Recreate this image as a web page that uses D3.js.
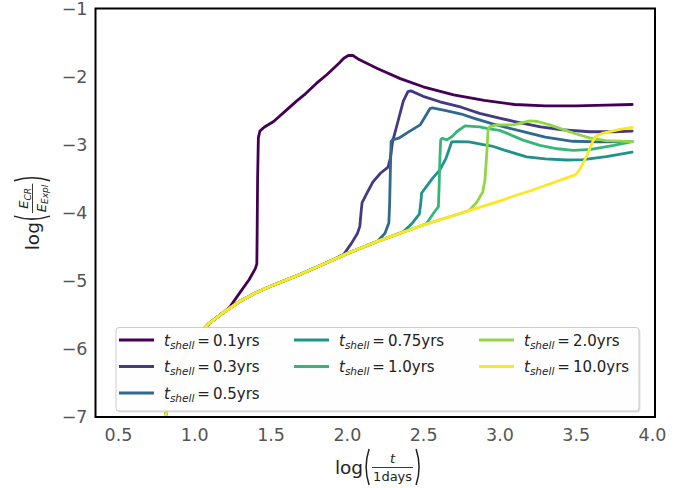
<!DOCTYPE html>
<html><head><meta charset="utf-8">
<script src="https://cdn.jsdelivr.net/npm/d3@7"></script>
<style>body{margin:0;background:#fff} svg{display:block} text{font-family:"DejaVu Sans",sans-serif}</style>
</head><body><svg id="c" width="694" height="488"></svg>
<script>
// ---- data ----
const seriesLabels = ["0.1","0.3","0.5","0.75","1.0","2.0","10.0"];
const seriesColors = ["#440154","#443983","#31688e","#21918c","#35b779","#90d743","#fde725"];
const xTicks = [0.5,1.0,1.5,2.0,2.5,3.0,3.5,4.0];
const yTicks = [-7,-6,-5,-4,-3,-2,-1];
// shared rising envelope
const envX = [0.78,0.80,0.83,0.87,0.92,0.98,1.04,1.10,1.20,1.30,1.40,1.50,1.60,1.70,1.80,1.90,2.00,2.10,2.20,2.30,2.40,2.50,2.60,2.70,2.80,2.90,3.00,3.10,3.20,3.30,3.40];
const envY = [-7.3,-7.1,-6.8,-6.5,-6.2,-5.95,-5.76,-5.62,-5.45,-5.3,-5.18,-5.08,-4.99,-4.90,-4.80,-4.70,-4.60,-4.51,-4.42,-4.34,-4.26,-4.18,-4.11,-4.04,-3.97,-3.90,-3.83,-3.75,-3.68,-3.60,-3.52];
// each series leaves the envelope at departX, then follows its own tail
const departX = [1.234,1.98,2.20,2.37,2.52,2.80,3.50];
const tail01X = [1.234,1.30,1.36,1.40,1.41,1.412,1.415,1.42,1.43,1.46,1.52,1.60,1.67,1.72,1.80,1.87,1.95,1.98,2.01,2.04,2.08,2.20,2.35,2.50,2.70,2.90,3.10,3.30,3.50,3.70,3.87];
const tail01Y = [-5.38,-5.17,-4.98,-4.82,-4.75,-4.3,-3.5,-2.9,-2.8,-2.74,-2.66,-2.5,-2.36,-2.27,-2.1,-1.97,-1.8,-1.73,-1.69,-1.69,-1.75,-1.88,-2.03,-2.15,-2.27,-2.35,-2.41,-2.43,-2.43,-2.42,-2.41];
const tail03X = [1.98,2.03,2.07,2.085,2.095,2.10,2.13,2.17,2.22,2.27,2.285,2.30,2.33,2.37,2.40,2.42,2.50,2.61,2.75,2.87,3.00,3.10,3.27,3.40,3.59,3.75,3.87];
const tail03Y = [-4.61,-4.45,-4.3,-4.2,-3.95,-3.85,-3.72,-3.55,-3.42,-3.33,-3.2,-2.95,-2.7,-2.36,-2.22,-2.21,-2.29,-2.37,-2.45,-2.54,-2.61,-2.66,-2.74,-2.78,-2.81,-2.81,-2.80];
const tail05X = [2.20,2.25,2.275,2.28,2.285,2.29,2.30,2.34,2.40,2.48,2.51,2.545,2.56,2.65,2.75,2.83,2.95,3.05,3.156,3.30,3.48,3.65,3.87];
const tail05Y = [-4.42,-4.3,-4.15,-3.9,-3.4,-2.95,-2.93,-2.905,-2.82,-2.71,-2.6,-2.47,-2.46,-2.5,-2.55,-2.61,-2.69,-2.75,-2.81,-2.89,-2.95,-2.96,-2.955];
const tail075X = [2.37,2.43,2.475,2.485,2.49,2.52,2.56,2.61,2.65,2.687,2.72,2.80,2.894,2.95,3.047,3.178,3.30,3.44,3.55,3.70,3.87];
const tail075Y = [-4.28,-4.15,-4.02,-3.85,-3.71,-3.62,-3.5,-3.37,-3.2,-2.96,-2.955,-2.96,-3.0,-3.02,-3.09,-3.18,-3.21,-3.225,-3.22,-3.176,-3.11];
const tail10X = [2.52,2.57,2.60,2.605,2.61,2.615,2.625,2.655,2.69,2.72,2.774,2.87,2.916,3.0,3.047,3.15,3.265,3.38,3.484,3.6,3.75,3.87];
const tail10Y = [-4.166,-4.0,-3.91,-3.6,-3.2,-2.93,-2.905,-2.93,-2.88,-2.81,-2.725,-2.74,-2.76,-2.79,-2.83,-2.93,-3.01,-3.06,-3.085,-3.07,-3.01,-2.955];
const tail20X = [2.80,2.85,2.89,2.905,2.915,2.925,2.935,2.98,3.04,3.09,3.15,3.20,3.25,3.33,3.42,3.50,3.59,3.70,3.87];
const tail20Y = [-3.97,-3.85,-3.7,-3.52,-3.2,-2.8,-2.74,-2.71,-2.71,-2.71,-2.675,-2.65,-2.66,-2.71,-2.78,-2.84,-2.9,-2.94,-2.955];
const tail100X = [3.50,3.53,3.56,3.585,3.61,3.63,3.68,3.79,3.87];
const tail100Y = [-3.44,-3.35,-3.22,-3.1,-2.96,-2.88,-2.83,-2.775,-2.745];
const tailsX = [tail01X,tail03X,tail05X,tail075X,tail10X,tail20X,tail100X];
const tailsY = [tail01Y,tail03Y,tail05Y,tail075Y,tail10Y,tail20Y,tail100Y];

// ---- layout ----
const svg = d3.select("#c");
const L = 95.5, R = 655, T = 8.5, B = 417;
const x = d3.scaleLinear().domain([0.5 - (118 - L) / 152.6, 4.0 + (R - 652) / 152.6]).range([L, R]);
const y = d3.scaleLinear().domain([-7, -1]).range([B, T]);

svg.append("defs").append("clipPath").attr("id","clip")
  .append("rect").attr("x",L).attr("y",T).attr("width",R-L).attr("height",B-T);

const series = seriesLabels.map((lab,i) => {
  const pts = [];
  envX.forEach((vx,k) => { if (vx < departX[i]) pts.push([vx, envY[k]]); });
  tailsX[i].forEach((vx,k) => pts.push([vx, tailsY[i][k]]));
  return {lab, color: seriesColors[i], pts};
});

const line = d3.line().x(d => x(d[0])).y(d => y(d[1]));
svg.append("g").attr("clip-path","url(#clip)")
  .selectAll("path").data(series).join("path")
  .attr("d", d => line(d.pts)).attr("fill","none")
  .attr("stroke", d => d.color).attr("stroke-width",2.8)
  .attr("stroke-linejoin","round").attr("stroke-linecap","round");

// axes (labels only, no tick marks)
const xa = svg.append("g").attr("transform",`translate(0,${B})`)
  .call(d3.axisBottom(x).tickValues(xTicks).tickFormat(d3.format(".1f")).tickSize(0).tickPadding(12));
const ya = svg.append("g").attr("transform",`translate(${L},0)`)
  .call(d3.axisLeft(y).tickValues(yTicks).tickFormat(d => "\u2212" + Math.abs(d)).tickSize(0).tickPadding(8));
[xa, ya].forEach(g => {
  g.select(".domain").remove();
  g.selectAll("text").attr("font-family","DejaVu Sans").attr("font-size",17.5).attr("fill","#555");
});

// frame
svg.append("rect").attr("x",L).attr("y",T).attr("width",R-L).attr("height",B-T)
  .attr("fill","none").attr("stroke","#000").attr("stroke-width",2);

// ---- legend ----
const lg = svg.append("g");
const lx = 116, ly = 327.5, lw = 523, lh = 83.5;
lg.append("rect").attr("x",lx+1.5).attr("y",ly+1.5).attr("width",lw).attr("height",lh)
  .attr("rx",3).attr("fill","#000").attr("opacity",0.12);
lg.append("rect").attr("x",lx).attr("y",ly).attr("width",lw).attr("height",lh)
  .attr("rx",3).attr("fill","#fff").attr("fill-opacity",0.95).attr("stroke","#ccc").attr("stroke-width",1);
const colX = [119, 294, 479];
const rowY = [340, 366.5, 393];
const colOf = [0,0,0,1,1,2,2], rowOf = [0,1,2,0,1,0,1];
series.forEach((s,i) => {
  const cx = colX[colOf[i]], cy = rowY[rowOf[i]];
  lg.append("line").attr("x1",cx).attr("x2",cx+35).attr("y1",cy).attr("y2",cy)
    .attr("stroke",s.color).attr("stroke-width",2.8);
  const t = lg.append("text").attr("x",cx+45).attr("y",cy+5.5).attr("font-size",15).attr("fill","#222");
  t.append("tspan").attr("font-style","italic").text("t");
  t.append("tspan").attr("font-style","italic").attr("font-size",10.5).attr("dy",3).text("shell");
  t.append("tspan").attr("dy",-3).attr("dx",3).text("=");
  t.append("tspan").attr("dx",3).text(s.lab);
  t.append("tspan").text("yrs");
});

// ---- math axis labels ----
function paren(g, x0, top, bot, open) {
  const mid = (top+bot)/2, w = 6;
  const xc = open ? x0 - w : x0 + w;
  g.append("path").attr("d",`M${x0},${top} Q${xc},${mid} ${x0},${bot}`)
    .attr("fill","none").attr("stroke","#222").attr("stroke-width",1.5);
}
function mathLabel(g, numParts, denParts) {
  const logT = g.append("text").attr("x",0).attr("y",0).attr("font-size",18.5).attr("fill","#222").text("log");
  const lw0 = logT.node().getComputedTextLength();
  const cx = lw0 + 6;
  paren(g, cx, -25, 11, true);
  const fx = cx + 3;
  const num = g.append("text").attr("y",-11).attr("font-size",13).attr("fill","#222").attr("text-anchor","middle");
  numParts(num);
  const den = g.append("text").attr("y",6.5).attr("font-size",13).attr("fill","#222").attr("text-anchor","middle");
  denParts(den);
  const fw = Math.max(num.node().getComputedTextLength(), den.node().getComputedTextLength()) + 2;
  num.attr("x", fx + fw/2); den.attr("x", fx + fw/2);
  g.append("line").attr("x1",fx).attr("x2",fx+fw).attr("y1",-6.5).attr("y2",-6.5).attr("stroke","#222").attr("stroke-width",0.9);
  paren(g, fx + fw + 3, -25, 11, false);
  return fx + fw + 6;
}
const xl = svg.append("g");
const xw = mathLabel(xl,
  t => t.append("tspan").attr("font-style","italic").text("t"),
  t => t.text("1days"));
xl.attr("transform",`translate(${377 - xw/2},${474})`);

const yl = svg.append("g");
const yw = mathLabel(yl,
  t => { t.append("tspan").attr("font-style","italic").text("E");
         t.append("tspan").attr("font-style","italic").attr("font-size",9).attr("dy",2.5).text("CR"); },
  t => { t.append("tspan").attr("font-style","italic").text("E");
         t.append("tspan").attr("font-style","italic").attr("font-size",9).attr("dy",2.5).text("Expl"); });
yl.attr("transform",`translate(39,${214 + yw/2}) rotate(-90)`);
</script></body></html>
